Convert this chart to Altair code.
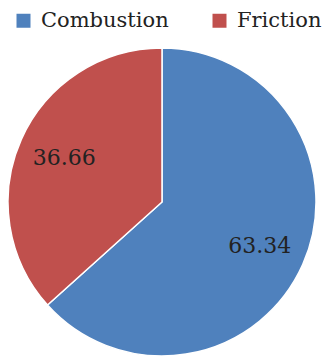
import altair as alt
import pandas as pd

categories = ["Combustion", "Friction"]
values = [63.34, 36.66]
colors = ["#4F81BD", "#C0504D"]

df = pd.DataFrame({"cat": categories, "val": values, "order": [0, 1]})

base = alt.Chart(df).encode(
    theta=alt.Theta("val:Q", stack=True),
    order=alt.Order("order:Q"),
)

arc = base.mark_arc(stroke="white", strokeWidth=1.5).encode(
    color=alt.Color(
        "cat:N",
        scale=alt.Scale(domain=categories, range=colors),
        legend=alt.Legend(
            orient="none", legendX=5, legendY=-38, direction="horizontal",
            title=None, symbolType="square", symbolSize=196,
            labelFont="DejaVu Serif", labelFontSize=21, labelColor="#222",
            columnPadding=40, labelOffset=7, symbolStrokeWidth=0,
        ),
    )
)

text = base.mark_text(radius=107, font="DejaVu Serif", fontSize=22, color="#222").encode(
    text=alt.Text("val:Q", format=".2f")
)

chart = (arc + text).properties(
    width=308, height=308,
    autosize=alt.AutoSizeParams(type="none"),
    padding={"left": 0, "top": 40, "right": 8, "bottom": 0},
).configure_view(stroke=None)

chart.save("out.html", embed_options={"renderer": "svg", "actions": False})
